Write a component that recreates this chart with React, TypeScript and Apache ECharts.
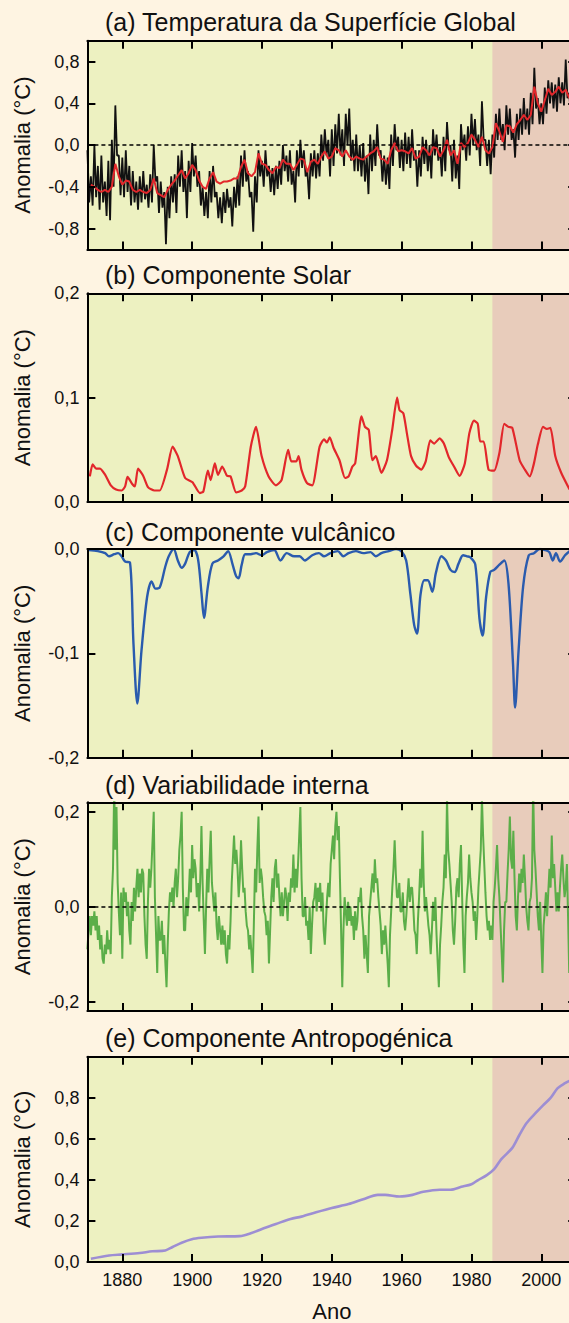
import React, { useEffect, useRef } from "react";
import * as echarts from "echarts";

const FONT = '"Liberation Sans", Arial, Helvetica, sans-serif';

// ---------- axes / text ----------
const yearMin = 1870;
const yearMax = 2010;
const yearTicks = [1880, 1900, 1920, 1940, 1960, 1980, 2000];
const periodSplitYear = 1986;

const panelTitles = [
  "(a) Temperatura da Superfície Global",
  "(b) Componente Solar",
  "(c) Componente vulcânico",
  "(d) Variabilidade interna",
  "(e) Componente Antropogénica",
];
const yAxisName = "Anomalia (°C)";
const xAxisName = "Ano";

const tempTicks = [-0.8, -0.4, 0, 0.4, 0.8];
const solarTicks = [0, 0.1, 0.2];
const volcTicks = [-0.2, -0.1, 0];
const internalTicks = [-0.2, 0, 0.2];
const anthroTicks = [0, 0.2, 0.4, 0.6, 0.8];

const tempRange = [-1, 1];
const solarRange = [0, 0.2];
const volcRange = [-0.2, 0];
const internalRange = [-0.22, 0.22];
const anthroRange = [0, 1];

// ---------- data ----------
// (a) observed global surface temperature, two readings per year from 1870
const tempObsStart = 1870;
const tempObsStep = 0.5;
const tempObsValues = [
  -0.05, -0.55, -0.3, -0.58, 0.0, -0.5, -0.2, -0.62, -0.1, -0.55, -0.35, -0.68, -0.15, -0.72, 0.05, -0.4, 0.38, -0.1, -0.1, -0.48,
  -0.12, -0.5, -0.05, -0.45, -0.2, -0.58, -0.25, -0.55, -0.35, -0.62, -0.3, -0.55, -0.25, -0.52, -0.38, -0.6, -0.28, -0.55, 0.0, -0.35,
  -0.3, -0.65, -0.35, -0.6, -0.45, -0.95, -0.4, -0.7, -0.3, -0.55, -0.28, -0.65, -0.1, -0.4, -0.05, -0.45, -0.25, -0.7, -0.15, -0.45,
  0.02, -0.3, -0.1, -0.4, -0.25, -0.58, -0.4, -0.68, -0.45, -0.7, -0.25, -0.55, -0.2, -0.5, -0.45, -0.7, -0.5, -0.75, -0.45, -0.65,
  -0.42, -0.6, -0.5, -0.78, -0.4, -0.6, -0.3, -0.58, -0.1, -0.4, -0.05, -0.35, -0.25, -0.5, -0.45, -0.83, -0.3, -0.55, -0.05, -0.3,
  -0.15, -0.4, -0.05, -0.3, -0.2, -0.45, -0.22, -0.48, -0.2, -0.42, -0.15, -0.38, 0.0, -0.25, -0.1, -0.35, -0.05, -0.38, -0.25, -0.55,
  -0.05, -0.3, 0.05, -0.22, -0.05, -0.3, -0.25, -0.52, -0.08, -0.3, -0.05, -0.32, -0.08, -0.3, 0.1, -0.15, 0.15, -0.1, 0.05, -0.3,
  0.15, -0.2, 0.2, -0.08, 0.3, -0.1, 0.15, -0.2, 0.3, 0.0, 0.35, -0.15, 0.05, -0.25, 0.1, -0.25, 0.0, -0.3, 0.02, -0.35,
  -0.1, -0.47, 0.1, -0.25, 0.05, -0.2, 0.2, -0.1, -0.05, -0.35, -0.1, -0.38, -0.12, -0.42, 0.1, -0.2, 0.2, -0.05, 0.08, -0.22,
  0.05, -0.25, 0.12, -0.18, 0.08, -0.22, 0.15, -0.15, -0.05, -0.4, -0.05, -0.3, 0.08, -0.18, 0.05, -0.25, 0.0, -0.32, 0.15, -0.1,
  0.1, -0.15, -0.02, -0.3, 0.08, -0.25, 0.22, -0.05, 0.0, -0.35, 0.05, -0.32, -0.1, -0.42, 0.2, -0.05, 0.1, -0.15, 0.18, -0.1,
  0.3, 0.0, 0.25, -0.05, 0.1, -0.2, 0.42, 0.05, 0.05, -0.2, 0.05, -0.28, 0.1, -0.12, 0.3, 0.05, 0.35, 0.05, 0.2, -0.05,
  0.38, 0.1, 0.35, 0.05, 0.15, -0.12, 0.3, 0.05, 0.35, 0.1, 0.45, 0.15, 0.35, 0.1, 0.5, 0.2, 0.74, 0.35, 0.45, 0.2,
  0.4, 0.2, 0.55, 0.3, 0.62, 0.4, 0.6, 0.35, 0.58, 0.32, 0.65, 0.4, 0.6, 0.38, 0.82, 0.45, 0.5, 0.25,
];

// (a) fitted temperature (red), annual from 1871
const tempFitStart = 1871;
const tempFitValues = [
  -0.38, -0.4, -0.43, -0.45, -0.43, -0.45, -0.4, -0.18, -0.3,
  -0.38, -0.34, -0.35, -0.43, -0.45, -0.43, -0.45, -0.46, -0.43, -0.32,
  -0.46, -0.48, -0.5, -0.43, -0.38, -0.34, -0.29, -0.24, -0.32, -0.27,
  -0.19, -0.24, -0.34, -0.4, -0.42, -0.32, -0.26, -0.35, -0.37, -0.35,
  -0.35, -0.34, -0.32, -0.32, -0.21, -0.14, -0.27, -0.3, -0.26, -0.08,
  -0.18, -0.19, -0.24, -0.27, -0.21, -0.22, -0.14, -0.18, -0.18, -0.24,
  -0.19, -0.13, -0.14, -0.26, -0.16, -0.14, -0.18, -0.11, -0.06, -0.13,
  -0.11, -0.03, -0.05, -0.11, -0.05, -0.11, -0.14, -0.11, -0.13, -0.14,
  -0.11, -0.08, -0.06, -0.02, -0.13, -0.14, -0.18, -0.05, 0.02, -0.06,
  -0.05, -0.06, -0.08, -0.03, -0.13, -0.11, -0.02, -0.05, -0.1, -0.02,
  -0.03, -0.11, -0.05, 0.05, -0.1, -0.05, -0.18, 0.02, -0.02, 0.02,
  0.1, 0.05, -0.02, 0.08, -0.05, -0.08, -0.02, 0.21, 0.13, 0.03,
  0.19, 0.18, 0.12, 0.2, 0.24, 0.29, 0.24, 0.29, 0.56, 0.4,
  0.32, 0.43, 0.54, 0.48, 0.51, 0.56, 0.5, 0.53, 0.45,
];

// (b) solar component [year, °C]
const solarSeries = [
  [1870.7, 0.0245], [1871.5, 0.036], [1872.5, 0.032], [1873.6, 0.032], [1875.1, 0.026], [1876.7, 0.016],
  [1878.2, 0.012], [1879.8, 0.011], [1880.8, 0.015], [1881.5, 0.024], [1882.9, 0.017], [1883.6, 0.015],
  [1884.5, 0.032], [1886.0, 0.025], [1887.4, 0.014], [1889.2, 0.011], [1890.7, 0.011], [1892.8, 0.031],
  [1894.4, 0.053], [1895.9, 0.044], [1898.0, 0.023], [1900.1, 0.019], [1902.2, 0.0086], [1903.2, 0.01],
  [1904.5, 0.03], [1905.3, 0.021], [1906.5, 0.037], [1907.4, 0.026], [1908.6, 0.034], [1910.0, 0.025],
  [1911.0, 0.0245], [1912.6, 0.0092], [1914.2, 0.011], [1915.2, 0.015], [1916.8, 0.053], [1918.3, 0.072],
  [1919.9, 0.044], [1921.9, 0.0245], [1924.0, 0.016], [1925.6, 0.021], [1927.5, 0.05], [1928.4, 0.039],
  [1929.8, 0.039], [1930.5, 0.044], [1931.3, 0.031], [1932.9, 0.018], [1934.4, 0.016], [1936.5, 0.053],
  [1937.8, 0.06], [1938.6, 0.057], [1939.4, 0.062], [1940.5, 0.052], [1942.2, 0.04], [1943.8, 0.023],
  [1944.8, 0.0245], [1945.9, 0.034], [1946.7, 0.037], [1948.5, 0.082], [1949.5, 0.072], [1950.6, 0.069],
  [1951.6, 0.04], [1952.6, 0.044], [1954.2, 0.028], [1955.8, 0.04], [1957.3, 0.069], [1958.7, 0.1],
  [1959.4, 0.088], [1960.5, 0.085], [1961.5, 0.066], [1962.7, 0.044], [1964.1, 0.035], [1965.6, 0.031],
  [1966.9, 0.039], [1968.2, 0.059], [1969.3, 0.056], [1970.9, 0.061], [1972.1, 0.056], [1973.5, 0.043],
  [1975.0, 0.034], [1976.6, 0.025], [1978.1, 0.037], [1979.4, 0.066], [1980.7, 0.078], [1981.8, 0.075],
  [1982.5, 0.058], [1983.5, 0.058], [1984.9, 0.031], [1986.5, 0.03], [1988.0, 0.047], [1989.4, 0.075],
  [1990.6, 0.072], [1991.7, 0.071], [1993.8, 0.04], [1995.3, 0.031], [1996.7, 0.0245], [1997.9, 0.037],
  [1999.0, 0.055], [2000.5, 0.072], [2001.6, 0.07], [2002.6, 0.071], [2004.0, 0.044], [2005.7, 0.028],
  [2008.1, 0.012],
];

// (c) volcanic component [year, °C]
const volcanicSeries = [
  [1870.4, -0.001], [1873.0, -0.002], [1875.1, -0.004], [1876.2, -0.007], [1877.7, -0.005], [1878.8, -0.004],
  [1879.8, -0.007], [1880.8, -0.012], [1882.2, -0.013], [1883.2, -0.091], [1884.3, -0.148], [1885.5, -0.097],
  [1887.1, -0.046], [1888.4, -0.031], [1889.5, -0.038], [1890.7, -0.037], [1892.3, -0.017], [1893.3, -0.007],
  [1894.7, 0.0], [1895.9, -0.011], [1897.0, -0.018], [1898.0, -0.014], [1899.3, -0.003], [1900.6, -0.001],
  [1901.7, -0.01], [1902.7, -0.043], [1903.4, -0.066], [1904.5, -0.036], [1905.8, -0.014], [1907.4, -0.011],
  [1909.0, -0.007], [1910.3, -0.002], [1911.6, -0.015], [1912.6, -0.026], [1913.3, -0.028], [1914.2, -0.015],
  [1915.2, -0.005], [1916.8, -0.005], [1918.3, -0.004], [1919.9, -0.006], [1921.4, -0.003], [1923.5, -0.001],
  [1925.3, -0.011], [1927.1, -0.004], [1929.2, -0.007], [1930.8, -0.007], [1932.3, -0.011], [1934.4, -0.006],
  [1936.3, -0.004], [1937.8, -0.007], [1939.6, -0.004], [1941.7, -0.002], [1943.3, -0.007], [1944.8, -0.004],
  [1946.9, -0.002], [1949.0, -0.004], [1951.1, -0.003], [1952.6, -0.007], [1954.2, -0.004], [1956.3, -0.002],
  [1958.4, 0.0], [1959.9, -0.002], [1961.3, -0.011], [1962.5, -0.043], [1963.6, -0.073], [1964.4, -0.081],
  [1965.4, -0.044], [1966.5, -0.03], [1967.5, -0.03], [1968.8, -0.041], [1969.8, -0.023], [1971.4, -0.007],
  [1972.7, -0.011], [1974.0, -0.02], [1975.2, -0.022], [1976.3, -0.014], [1977.6, -0.006], [1978.7, -0.007],
  [1979.7, -0.008], [1981.1, -0.015], [1982.3, -0.067], [1983.2, -0.083], [1984.2, -0.046], [1985.4, -0.022],
  [1986.5, -0.02], [1988.0, -0.015], [1989.4, -0.011], [1990.6, -0.033], [1991.9, -0.11], [1992.5, -0.152],
  [1993.5, -0.097], [1994.8, -0.036], [1996.4, -0.006], [1997.9, -0.004], [1999.5, 0.0], [2001.1, -0.001],
  [2002.3, -0.003], [2003.3, -0.011], [2004.2, -0.004], [2005.4, -0.012], [2006.8, -0.006], [2008.1, -0.002],
];

// (d) internal variability, three readings per year from 1870
const internalStart = 1870;
const internalStep = 1 / 3;
const internalValues = [
  -0.09, -0.05, -0.02, -0.06, -0.02, -0.04, -0.01, -0.05, -0.02, -0.07, -0.04, -0.09, -0.06, -0.11, -0.12,
  -0.08, -0.1, -0.05, -0.09, -0.07, -0.1, 0.02, 0.08, 0.25, 0.12, 0.21, 0.05, -0.01, -0.06, 0.03,
  -0.11, 0.04, 0.01, 0.03, -0.02, 0.01, -0.05, -0.08, 0.01, -0.03, 0.04, -0.01, 0.04, 0.08, 0.02,
  0.07, 0.03, 0.08, 0.07, -0.02, -0.08, -0.11, 0.01, 0.08, 0.04, 0.08, 0.14, 0.2, 0.02, -0.06,
  -0.14, -0.02, -0.07, -0.07, -0.03, -0.1, -0.06, -0.12, -0.17, -0.08, -0.01, 0.03, 0.01, 0.04, 0.0,
  0.05, 0.08, 0.02, 0.06, 0.12, 0.15, 0.2, 0.04, -0.05, -0.05, 0.02, -0.02, 0.02, 0.08, 0.03,
  0.13, 0.06, 0.1, 0.08, 0.02, 0.05, -0.01, 0.06, 0.17, 0.05, -0.03, -0.1, 0.0, 0.08, 0.03,
  0.1, 0.16, 0.05, 0.02, -0.01, 0.03, -0.04, -0.07, -0.02, -0.05, -0.08, -0.04, -0.08, -0.05, -0.1,
  -0.12, -0.06, -0.09, -0.03, 0.05, 0.1, 0.15, 0.09, 0.12, 0.08, 0.02, 0.06, 0.14, 0.08, 0.03,
  0.04, -0.01, -0.04, -0.05, -0.09, -0.06, -0.1, -0.14, -0.04, 0.08, 0.03, 0.12, 0.19, 0.05, 0.08,
  0.06, 0.02, -0.01, -0.02, -0.06, -0.03, -0.12, -0.05, 0.02, 0.06, 0.01, 0.08, 0.1, 0.04, 0.07,
  0.02, -0.02, 0.03, -0.02, 0.01, 0.04, 0.02, -0.03, 0.03, 0.01, 0.06, 0.04, 0.11, 0.03, 0.08,
  0.04, 0.09, 0.15, 0.21, 0.06, -0.02, -0.02, 0.02, -0.04, -0.03, -0.07, 0.0, -0.1, -0.04, 0.01,
  0.02, 0.05, -0.01, 0.04, 0.01, 0.05, -0.01, 0.03, -0.05, -0.08, -0.03, 0.02, 0.05, 0.02, 0.09,
  0.12, 0.15, 0.1, 0.17, 0.2, 0.14, 0.17, 0.06, -0.05, -0.17, -0.05, 0.02, -0.01, -0.04, 0.01,
  -0.03, 0.0, -0.04, -0.02, -0.07, -0.01, -0.05, -0.03, 0.02, 0.01, 0.04, -0.02, -0.05, -0.11, -0.06,
  -0.1, -0.14, -0.02, 0.01, 0.04, 0.07, 0.03, 0.1, 0.05, 0.06, 0.02, -0.01, -0.04, -0.1, -0.05,
  -0.08, -0.04, -0.08, -0.12, -0.17, -0.06, -0.01, 0.04, 0.08, 0.14, 0.07, 0.02, 0.02, 0.05, -0.01,
  -0.01, 0.03, -0.03, -0.05, -0.02, 0.02, 0.06, 0.01, 0.04, 0.04, 0.0, -0.05, -0.06, -0.1, -0.03,
  0.02, 0.08, 0.04, 0.16, 0.05, -0.01, 0.02, -0.01, -0.04, -0.06, -0.1, -0.05, 0.01, -0.03, 0.02,
  -0.06, -0.12, -0.17, -0.08, -0.04, 0.01, 0.04, 0.11, 0.06, 0.23, 0.12, 0.09, 0.05, 0.01, -0.05,
  -0.08, -0.03, 0.04, 0.06, 0.02, 0.09, 0.13, 0.02, -0.08, -0.14, -0.02, 0.02, 0.05, 0.11, 0.06,
  0.03, 0.01, -0.03, -0.01, -0.07, -0.02, 0.04, 0.08, 0.12, 0.23, 0.15, 0.09, 0.03, -0.02, -0.05,
  -0.03, -0.07, -0.04, -0.07, 0.01, 0.04, 0.08, 0.13, 0.06, 0.02, -0.04, -0.1, -0.16, -0.05, 0.01,
  0.01, 0.07, 0.12, 0.19, 0.1, 0.08, 0.16, 0.06, -0.02, -0.05, 0.02, 0.07, 0.03, 0.08, 0.05,
  0.11, 0.06, 0.0, -0.03, -0.05, 0.01, 0.02, 0.06, 0.25, 0.12, 0.08, 0.03, -0.02, -0.05, 0.01,
  -0.07, -0.14, -0.04, -0.01, 0.03, -0.02, 0.03, 0.08, 0.04, 0.15, 0.06, 0.09, 0.04, -0.01, 0.03,
  -0.01, 0.04, 0.08, 0.11, 0.06, 0.02, 0.04, 0.09, -0.02, -0.14, -0.05, -0.1,
];

// (e) anthropogenic component [year, °C]
const anthroSeries = [
  [1871.0, 0.016], [1876.2, 0.032], [1880.0, 0.037], [1885.0, 0.044], [1888.6, 0.052], [1892.3, 0.056],
  [1894.4, 0.073], [1897.0, 0.094], [1899.9, 0.111], [1902.7, 0.118], [1907.4, 0.124], [1913.6, 0.126],
  [1916.8, 0.14], [1920.0, 0.161], [1924.0, 0.185], [1928.2, 0.21], [1931.3, 0.221], [1935.5, 0.242],
  [1940.0, 0.263], [1944.8, 0.282], [1949.0, 0.306], [1953.2, 0.327], [1955.3, 0.327], [1959.4, 0.319],
  [1963.1, 0.327], [1966.2, 0.342], [1970.9, 0.352], [1974.0, 0.352], [1977.1, 0.366], [1980.0, 0.379],
  [1981.8, 0.398], [1984.4, 0.423], [1986.5, 0.452], [1988.5, 0.5], [1991.7, 0.556], [1993.8, 0.621],
  [1995.8, 0.677], [1998.4, 0.726], [2000.5, 0.763], [2002.6, 0.798], [2004.7, 0.847], [2006.8, 0.871],
  [2008.1, 0.882],
];

// ---------- style / layout ----------
const COLORS = {
  page: "#FEF4E2",
  early: "#EDF1C1",
  late: "#E8CCBB",
  obs: "#111111",
  red: "#E2272B",
  blue: "#2A5BAE",
  green: "#5BAE49",
  purple: "#9D8ED3",
  ink: "#000000",
};
const GRID_LEFT = 87.4;
const GRID_WIDTH = 488.8;
const GRID_HEIGHT = 208.7;
const gridTops = [40.7, 293.3, 549, 802.3, 1056.7];
const titleCenters = [22, 275, 531.7, 785, 1038.3];
const TITLE_SIZE = 25;

const fmt = (v: number) => (Math.abs(v) < 1e-9 ? "0,0" : v.toFixed(1).replace(".", ","));

function buildOption() {
  const ranges = [tempRange, solarRange, volcRange, internalRange, anthroRange];
  const ticks = [tempTicks, solarTicks, volcTicks, internalTicks, anthroTicks];

  const grids = gridTops.map((top) => ({
    left: GRID_LEFT,
    top,
    width: GRID_WIDTH,
    height: GRID_HEIGHT,
    show: true,
    backgroundColor: COLORS.early,
    borderWidth: 0,
  }));

  const axisLine = { show: true, onZero: false, lineStyle: { color: COLORS.ink, width: 2 } };
  const xAxes: any[] = [];
  const yAxes: any[] = [];
  for (let i = 0; i < 5; i++) {
    const last = i === 4;
    ["bottom", "top"].forEach((pos) => {
      const isBottom = pos === "bottom";
      xAxes.push({
        gridIndex: i,
        type: "value",
        position: pos,
        min: yearMin,
        max: yearMax,
        z: 10,
        axisLine,
        splitLine: { show: false },
        axisTick: {
          show: true,
          inside: true,
          length: 8,
          lineStyle: { color: COLORS.ink, width: 2 },
          customValues: yearTicks,
        },
        axisLabel: {
          show: last && isBottom,
          customValues: yearTicks,
          fontSize: 18,
          fontFamily: FONT,
          color: "#111",
          margin: 9,
          formatter: (v: number) => String(v),
        },
        name: last && isBottom ? xAxisName : "",
        nameLocation: "middle",
        nameGap: 38,
        nameTextStyle: { fontSize: 22, fontFamily: FONT, color: "#111" },
      });
    });
    ["left", "right"].forEach((pos) => {
      const isLeft = pos === "left";
      yAxes.push({
        gridIndex: i,
        type: "value",
        position: pos,
        min: ranges[i][0],
        max: ranges[i][1],
        z: 10,
        axisLine,
        splitLine: { show: false },
        axisTick: {
          show: true,
          inside: true,
          length: 8,
          lineStyle: { color: COLORS.ink, width: 2 },
          customValues: ticks[i],
        },
        axisLabel: {
          show: isLeft,
          customValues: ticks[i],
          fontSize: 18,
          fontFamily: FONT,
          color: "#111",
          margin: 8,
          formatter: (v: number) => fmt(v),
        },
        name: isLeft ? yAxisName : "",
        nameLocation: "middle",
        nameRotate: 90,
        nameGap: 54,
        nameTextStyle: { fontSize: 22, fontFamily: FONT, color: "#111" },
      });
    });
  }

  const lateArea = {
    silent: true,
    itemStyle: { color: COLORS.late },
    data: [[{ xAxis: periodSplitYear }, { xAxis: yearMax }]],
  };
  const zeroLine = {
    silent: true,
    symbol: "none",
    label: { show: false },
    lineStyle: { color: COLORS.ink, type: [4, 3], width: 1.5 },
    data: [{ yAxis: 0 }],
  };
  const base = (i: number) => ({
    type: "line",
    xAxisIndex: i * 2,
    yAxisIndex: i * 2,
    showSymbol: false,
    symbol: "none",
    silent: true,
  });

  const series: any[] = [
    {
      ...base(0),
      name: "obs",
      data: tempObsValues.map((v, k) => [tempObsStart + k * tempObsStep, v]),
      lineStyle: { color: COLORS.obs, width: 1.8 },
      markArea: lateArea,
      markLine: zeroLine,
    },
    {
      ...base(0),
      name: "fit",
      data: tempFitValues.map((v, k) => [tempFitStart + k, v]),
      lineStyle: { color: COLORS.red, width: 2 },
    },
    {
      ...base(1),
      name: "solar",
      data: solarSeries,
      smooth: 0.2,
      lineStyle: { color: COLORS.red, width: 2.2 },
      markArea: lateArea,
    },
    {
      ...base(2),
      name: "volc",
      data: volcanicSeries,
      smooth: 0.3,
      lineStyle: { color: COLORS.blue, width: 2.4 },
      markArea: lateArea,
    },
    {
      ...base(3),
      name: "internal",
      data: internalValues.map((v, k) => [internalStart + k * internalStep, v]),
      lineStyle: { color: COLORS.green, width: 2 },
      markArea: lateArea,
      markLine: zeroLine,
    },
    {
      ...base(4),
      name: "anthro",
      data: anthroSeries,
      smooth: 0.3,
      lineStyle: { color: COLORS.purple, width: 2.6 },
      markArea: lateArea,
    },
  ];

  const graphic = panelTitles.map((t, i) => ({
    type: "text",
    left: 105,
    top: titleCenters[i] - TITLE_SIZE / 2,
    style: { text: t, fontSize: TITLE_SIZE, fontFamily: FONT, fill: "#111" },
  }));

  return {
    animation: false,
    backgroundColor: COLORS.page,
    grid: grids,
    xAxis: xAxes,
    yAxis: yAxes,
    series,
    graphic,
  };
}

export default function App() {
  const ref = useRef<HTMLDivElement>(null);
  useEffect(() => {
    if (!ref.current) return;
    const chart = echarts.init(ref.current, undefined, { renderer: "svg" });
    chart.setOption(buildOption() as any);
    return () => chart.dispose();
  }, []);
  return (
    <div
      style={{
        position: "fixed",
        left: 0,
        top: 0,
        width: 569,
        height: 1323,
        overflow: "hidden",
        background: COLORS.page,
      }}
    >
      <div ref={ref} style={{ width: 620, height: 1323 }} />
    </div>
  );
}
